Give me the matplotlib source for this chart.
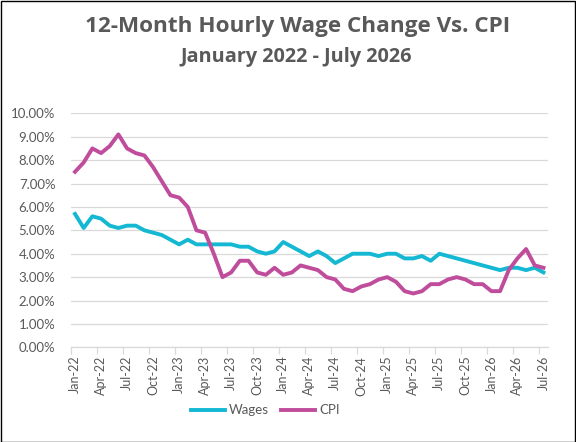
import matplotlib
matplotlib.use("Agg")
import matplotlib.pyplot as plt
from matplotlib.ticker import FuncFormatter, FixedLocator
import pandas as pd

plt.rcParams['font.family'] = ['Lato', 'DejaVu Sans']

months = pd.date_range("2022-01-01", "2026-07-01", freq="MS")
month_labels = [m.strftime("%b-%y") for m in months]

wages = [5.7, 5.1, 5.6, 5.5, 5.2, 5.1, 5.2, 5.2, 5.0, 4.9, 4.8, 4.6, 4.4, 4.6, 4.4,
         4.4, 4.4, 4.4, 4.4, 4.3, 4.3, 4.1, 4.0, 4.1, 4.5, 4.3, 4.1, 3.9, 4.1, 3.9,
         3.6, 3.8, 4.0, 4.0, 4.0, 3.9, 4.0, 4.0, 3.8, 3.8, 3.9, 3.7, 4.0, 3.9, 3.8,
         3.7, 3.6, 3.5, 3.4, 3.3, 3.4, 3.4, 3.3, 3.4, 3.2]
cpi = [7.5, 7.9, 8.5, 8.3, 8.6, 9.1, 8.5, 8.3, 8.2, 7.7, 7.1, 6.5, 6.4, 6.0, 5.0,
       4.9, 4.0, 3.0, 3.2, 3.7, 3.7, 3.2, 3.1, 3.4, 3.1, 3.2, 3.5, 3.4, 3.3, 3.0,
       2.9, 2.5, 2.4, 2.6, 2.7, 2.9, 3.0, 2.8, 2.4, 2.3, 2.4, 2.7, 2.7, 2.9, 3.0,
       2.9, 2.7, 2.7, 2.4, 2.4, 3.3, 3.8, 4.2, 3.5, 3.4]

gray = "#595959"
grid_col = "#D9D9D9"

fig = plt.figure(figsize=(5.76, 4.42), dpi=100)
ax = fig.add_axes([0.1227, 0.2142, 0.8283, 0.5294])

x = list(range(len(months)))
ax.plot(x, wages, color="#14B8D2", lw=2.8, label="Wages", solid_joinstyle="round")
ax.plot(x, cpi, color="#C04C9C", lw=2.8, label="CPI", solid_joinstyle="round")

ax.set_xlim(-0.5, len(months) - 0.5)
ax.set_ylim(0, 10)
ax.set_yticks([i for i in range(11)])
ax.yaxis.set_major_formatter(FuncFormatter(lambda v, p: f"{v:.2f}%"))
ax.grid(axis="y", color=grid_col, lw=0.9)
ax.set_axisbelow(True)

ax.set_xticks(x[::3])
ax.set_xticklabels(month_labels[::3], rotation=90)
ax.xaxis.set_minor_locator(FixedLocator([i - 0.5 for i in range(0, len(months) + 1, 3)]))
ax.tick_params(axis="x", which="major", length=0, pad=6, labelsize=9, labelcolor=gray)
ax.tick_params(axis="x", which="minor", length=5, color=grid_col, width=0.9)
ax.tick_params(axis="y", length=0, pad=11, labelsize=9.5, labelcolor=gray)

for s in ["top", "right", "left"]:
    ax.spines[s].set_visible(False)
ax.spines["bottom"].set_color(grid_col)
ax.spines["bottom"].set_linewidth(0.9)

fig.text(0.517, 0.94, "12-Month Hourly Wage Change Vs. CPI", ha="center", va="center",
         fontsize=16.2, fontweight="bold", color=gray, family="Open Sans")
fig.text(0.514, 0.87, "January 2022 - July 2026", ha="center", va="center",
         fontsize=14.3, fontweight="bold", color=gray, family="Open Sans")

fig.legend(loc="center", bbox_to_anchor=(0.46, 0.072), ncol=2, frameon=False,
           fontsize=9.5, labelcolor=gray, handlelength=2.6, columnspacing=0.9,
           handletextpad=0.3)

fig.patches.append(plt.Rectangle((0.001, 0.001), 0.997, 0.997, transform=fig.transFigure,
                                 fill=False, edgecolor="black", lw=1))

fig.savefig("out.png", dpi=100)
